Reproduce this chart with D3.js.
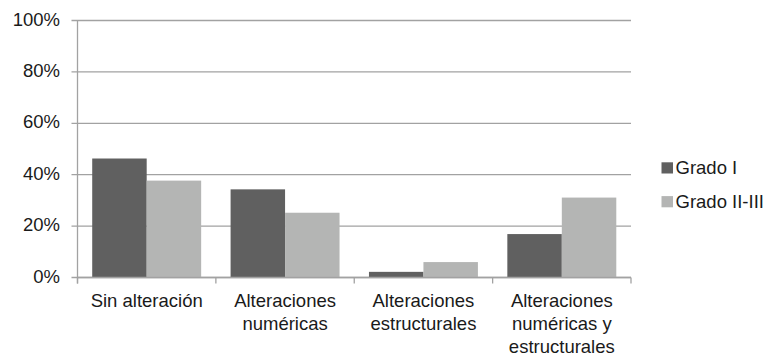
<!DOCTYPE html>
<html>
<head>
<meta charset="utf-8">
<script src="https://cdn.jsdelivr.net/npm/d3@7"></script>
<style>
  html, body { margin: 0; padding: 0; background: #fff; }
  svg text { font-family: "Liberation Sans", Arial, sans-serif; fill: #1a1a1a; }
</style>
</head>
<body>
<svg id="chart" width="772" height="356"></svg>
<script>
// Category labels (each entry is a list of text lines)
const categories = [
  ["Sin alteración"],
  ["Alteraciones", "numéricas"],
  ["Alteraciones", "estructurales"],
  ["Alteraciones", "numéricas y", "estructurales"]
];
const seriesNames = ["Grado I", "Grado II-III"];
const gradoI = [46.3, 34.3, 2.2, 16.9];
const gradoII_III = [37.7, 25.2, 6.0, 31.1];
const yTicks = [0, 20, 40, 60, 80, 100];
const colors = ["#606060", "#b4b5b4"];

const svg = d3.select("#chart");
const margin = { left: 77.5, right: 141, top: 20.5, bottom: 78.5 };
const W = 772, H = 356;
const plotW = W - margin.left - margin.right;
const plotH = H - margin.top - margin.bottom;
const fontSize = 18.5;

const g = svg.append("g").attr("transform", `translate(${margin.left},${margin.top})`);

const x0 = d3.scaleBand().domain(d3.range(categories.length)).range([0, plotW]).paddingInner(0).paddingOuter(0);
const x1 = d3.scaleBand().domain(seriesNames).range([0, x0.bandwidth()]).paddingInner(0).paddingOuter(0.27);
const y = d3.scaleLinear().domain([0, 100]).range([plotH, 0]);

// gridlines
g.append("g").selectAll("line").data(yTicks).join("line")
  .attr("x1", -6).attr("x2", plotW)
  .attr("y1", d => y(d)).attr("y2", d => y(d))
  .attr("stroke", "#a2a2a2").attr("stroke-width", 1.3);

// y tick labels
g.append("g").selectAll("text").data(yTicks).join("text")
  .attr("x", -17.5).attr("y", d => y(d)).attr("dy", "0.28em")
  .attr("text-anchor", "end").attr("font-size", fontSize)
  .text(d => d + "%");

// bars
const data = categories.map((c, i) => ({ i, values: [gradoI[i], gradoII_III[i]] }));
const grp = g.append("g").selectAll("g").data(data).join("g")
  .attr("transform", d => `translate(${x0(d.i)},0)`);
grp.selectAll("rect").data(d => d.values.map((v, k) => ({ v, k })))
  .join("rect")
  .attr("x", d => x1(seriesNames[d.k]))
  .attr("width", x1.bandwidth())
  .attr("y", d => y(d.v))
  .attr("height", d => y(0) - y(d.v))
  .attr("fill", d => colors[d.k]);

// y axis line
g.append("line").attr("x1", 0).attr("x2", 0).attr("y1", 0).attr("y2", plotH + 6)
  .attr("stroke", "#a2a2a2").attr("stroke-width", 1.3);
// x axis line
g.append("line").attr("x1", 0).attr("x2", plotW).attr("y1", plotH).attr("y2", plotH)
  .attr("stroke", "#a2a2a2").attr("stroke-width", 1.3);
// category tick marks
g.append("g").selectAll("line").data(d3.range(categories.length + 1)).join("line")
  .attr("x1", d => d * x0.step()).attr("x2", d => d * x0.step())
  .attr("y1", plotH).attr("y2", plotH + 6)
  .attr("stroke", "#a2a2a2").attr("stroke-width", 1.3);

// category labels
const lab = g.append("g").selectAll("text").data(categories).join("text")
  .attr("text-anchor", "middle").attr("font-size", fontSize)
  .attr("transform", (d, i) => `translate(${x0(i) + x0.bandwidth() / 2},${plotH + 29.2})`);
lab.selectAll("tspan").data(d => d).join("tspan")
  .attr("x", 0).attr("y", (d, j) => j * 23.3)
  .text(d => d);

// legend
const leg = svg.append("g").attr("transform", "translate(661.5,162.3)");
const li = leg.selectAll("g").data(seriesNames).join("g")
  .attr("transform", (d, i) => `translate(0,${i * 33.8})`);
li.append("rect").attr("width", 11.5).attr("height", 11.2).attr("fill", (d, i) => colors[i]);
li.append("text").attr("x", 14).attr("y", 11.7)
  .attr("font-size", fontSize).text(d => d);
</script>
</body>
</html>
